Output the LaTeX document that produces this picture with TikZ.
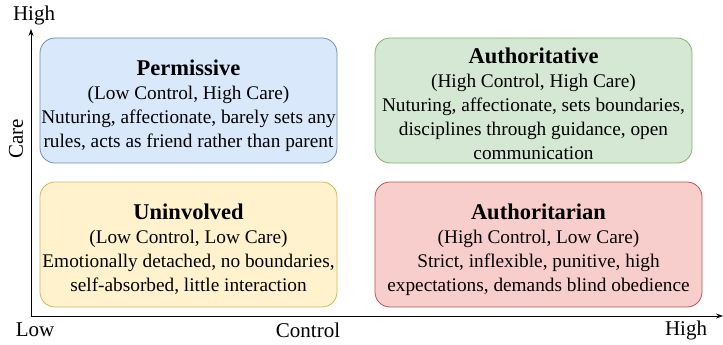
\documentclass[tikz,border=0pt]{standalone}
\usepackage{fontspec}
\setmainfont{Liberation Serif}
\usetikzlibrary{arrows.meta,positioning}
\definecolor{permfill}{HTML}{DAE8FC}
\definecolor{permdraw}{HTML}{6C8EBF}
\definecolor{authfill}{HTML}{D5E8D4}
\definecolor{authdraw}{HTML}{82B366}
\definecolor{uninfill}{HTML}{FFF2CC}
\definecolor{unindraw}{HTML}{D6B656}
\definecolor{tyrfill}{HTML}{F8CECC}
\definecolor{tyrdraw}{HTML}{B85450}
\tikzset{
    % Quadrant box style
    quadrant/.style={
        rectangle, rounded corners=15pt, line width=0.8pt,
        minimum height=125pt, inner sep=0pt
    },
    % Quadrant text style
    quadtext/.style={
        inner sep=0pt, align=center,
        font=\fontsize{19.3}{24}\selectfont
    },
    % Axis line style
    axis/.style={
        draw=black, line width=0.8pt,
        -{Stealth[length=7pt,width=5pt]}
    },
    % Axis label style
    axislabel/.style={
        inner sep=0pt, font=\fontsize{21}{24}\selectfont
    }
}
\newcommand{\quadtitle}[1]{{\fontsize{22.5}{24}\selectfont\bfseries #1}}

\begin{document}
\begin{tikzpicture}[x=1pt,y=-1pt]
\useasboundingbox (0,0) rectangle (723,345);

% Axes
\coordinate (origin) at (31,316);
\coordinate (caretip) at (31,29);
\coordinate (controltip) at (723,316);
\draw[axis] (origin) -- (caretip);
\draw[axis] (origin) -- (controltip);

% Axis labels
\node[axislabel] (carehigh) at (34,15) {High};
\node[axislabel, rotate=90] (care) at (16,139) {Care};
\node[axislabel] (controllow) at (35,330) {Low};
\node[axislabel] (control) at (308,330) {Control};
\node[axislabel] (controlhigh) at (686,330) {High};

% Quadrant boxes
\node[quadrant, fill=permfill, draw=permdraw, minimum width=297pt]
    (permissive) at (188.5,100.5) {};
\node[quadrant, fill=authfill, draw=authdraw, minimum width=317pt]
    (authoritative) at (533.5,100.5) {};
\node[quadrant, fill=uninfill, draw=unindraw, minimum width=297pt]
    (uninvolved) at (188.5,244.5) {};
\node[quadrant, fill=tyrfill, draw=tyrdraw, minimum width=327pt]
    (authoritarian) at (538.5,244.5) {};

% Quadrant texts
\node[quadtext] (permissivetext) at ([yshift=-5pt]permissive.center)
    {\quadtitle{Permissive}\\
    (Low Control, High Care)\\
    Nuturing, affectionate, barely sets any\\
    rules, acts as friend rather than parent};
\node[quadtext] (authoritativetext) at ([yshift=-3pt]authoritative.center)
    {\quadtitle{Authoritative}\\
    (High Control, High Care)\\
    Nuturing, affectionate, sets boundaries,\\
    disciplines through guidance, open\\
    communication};
\node[quadtext] (uninvolvedtext) at ([yshift=-5pt]uninvolved.center)
    {\quadtitle{Uninvolved}\\
    (Low Control, Low Care)\\
    Emotionally detached, no boundaries,\\
    self-absorbed, little interaction};
\node[quadtext] (authoritariantext) at ([yshift=-5pt]authoritarian.center)
    {\quadtitle{Authoritarian}\\
    (High Control, Low Care)\\
    Strict, inflexible, punitive, high\\
    expectations, demands blind obedience};

\end{tikzpicture}
\end{document}
